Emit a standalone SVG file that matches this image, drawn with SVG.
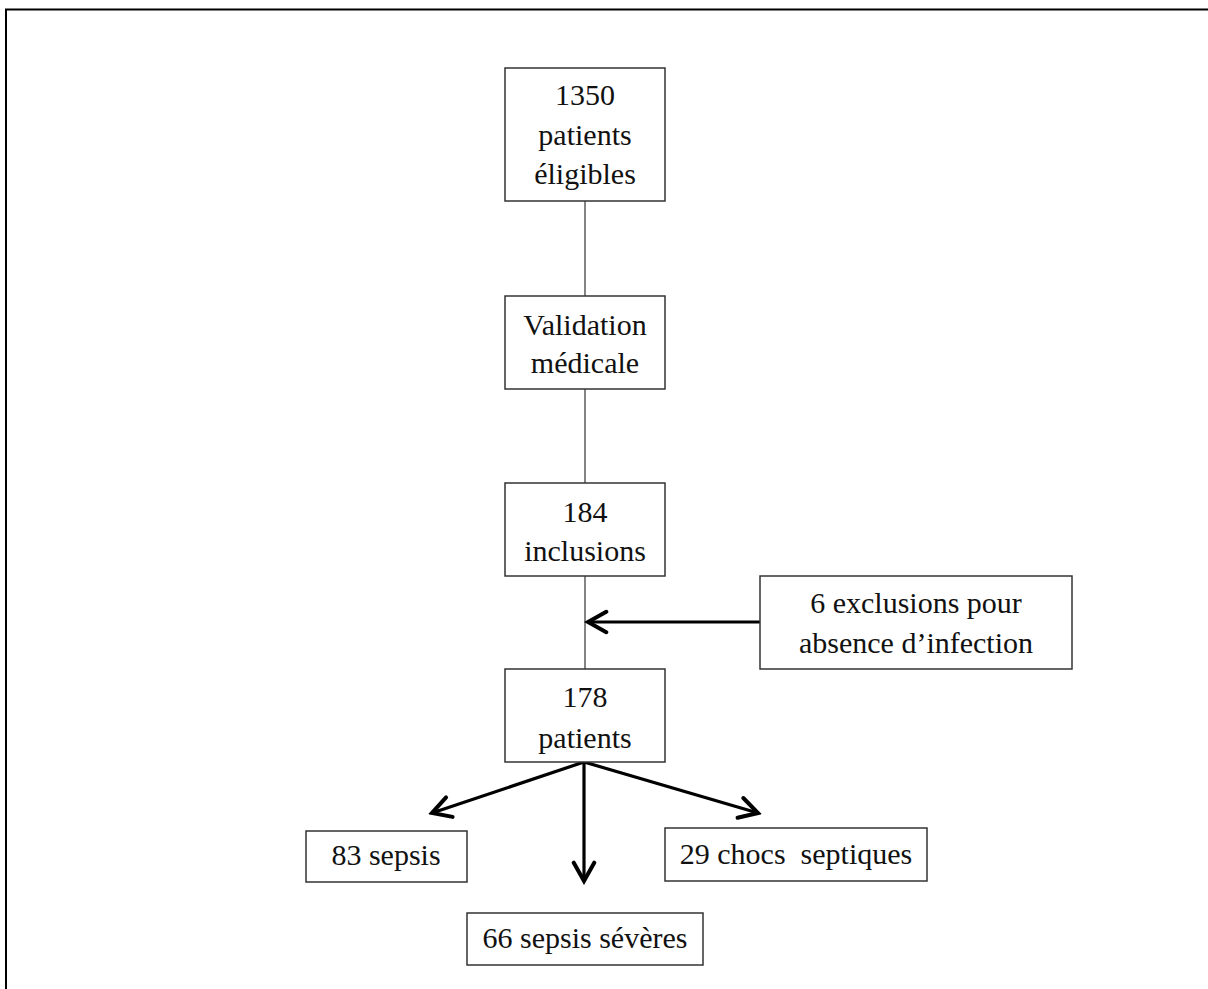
<svg xmlns="http://www.w3.org/2000/svg" width="1208" height="989" viewBox="0 0 1208 989">
<style>
.box{fill:#fff;stroke:#333;stroke-width:1.5}
.t{font-family:"Liberation Serif","Times New Roman",serif;font-size:30px;fill:#111;text-anchor:middle}
.thin{stroke:#333;stroke-width:1.2;fill:none}
.thick{stroke:#000;stroke-width:3.2;fill:none}
</style>
<defs>
<marker id="ah" markerWidth="8" markerHeight="8" viewBox="-6 -3.5 7 7" refX="0" refY="0" orient="auto" markerUnits="strokeWidth">
<path d="M-5,-2.8 L0,0 L-5,2.8" fill="none" stroke="#000" stroke-width="1.1" stroke-linecap="round" stroke-linejoin="miter"/>
</marker>
</defs>
<rect width="1208" height="989" fill="#fff"/>
<path d="M6,1000 V9.5 H1220" fill="none" stroke="#000" stroke-width="2"/>
<g id="connectors">
<line class="thin" x1="585" y1="201" x2="585" y2="296"/>
<line class="thin" x1="585" y1="389" x2="585" y2="483"/>
<line class="thin" x1="585" y1="576" x2="585" y2="669"/>
<line class="thick" x1="760" y1="622" x2="588" y2="622" marker-end="url(#ah)"/>
<line class="thick" x1="584" y1="762" x2="432" y2="813" marker-end="url(#ah)"/>
<line class="thick" x1="584" y1="762" x2="584" y2="881" marker-end="url(#ah)"/>
<line class="thick" x1="584" y1="762" x2="758" y2="813" marker-end="url(#ah)"/>
</g>
<g id="n1350">
<rect class="box" x="505" y="68" width="160" height="133"/>
<text class="t" x="585" y="105">1350</text>
<text class="t" x="585" y="145">patients</text>
<text class="t" x="585" y="184">éligibles</text>
</g>
<g id="nvalidation">
<rect class="box" x="505" y="296" width="160" height="93"/>
<text class="t" x="585" y="335">Validation</text>
<text class="t" x="585" y="373">médicale</text>
</g>
<g id="n184">
<rect class="box" x="505" y="483" width="160" height="93"/>
<text class="t" x="585" y="522">184</text>
<text class="t" x="585" y="561">inclusions</text>
</g>
<g id="nexclusions">
<rect class="box" x="760" y="576" width="312" height="93"/>
<text class="t" x="916" y="613">6 exclusions pour</text>
<text class="t" x="916" y="653">absence d’infection</text>
</g>
<g id="n178">
<rect class="box" x="505" y="669" width="160" height="93"/>
<text class="t" x="585" y="707">178</text>
<text class="t" x="585" y="748">patients</text>
</g>
<g id="nsepsis">
<rect class="box" x="306" y="831" width="161" height="51"/>
<text class="t" x="386" y="865">83 sepsis</text>
</g>
<g id="nchocs">
<rect class="box" x="665" y="828" width="262" height="53"/>
<text class="t" x="796" y="864" xml:space="preserve">29 chocs  septiques</text>
</g>
<g id="nsevere">
<rect class="box" x="467" y="913" width="236" height="52"/>
<text class="t" x="585" y="948">66 sepsis sévères</text>
</g>
</svg>
